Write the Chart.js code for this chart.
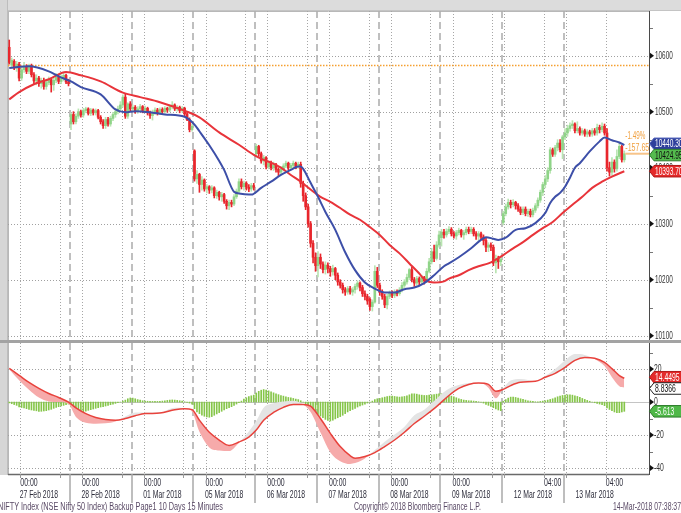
<!DOCTYPE html>
<html><head><meta charset="utf-8">
<script src="https://cdn.jsdelivr.net/npm/chart.js@4/dist/chart.umd.min.js"></script>
<style>
html,body{margin:0;padding:0;background:#fff;width:681px;height:513px;overflow:hidden;position:relative}
#topband{position:absolute;left:0;top:0;width:681px;height:10px;background:#dcdcdc;border-bottom:1px solid #c4c4c4}
#leftband{position:absolute;left:0;top:0;width:7px;height:475px;background:#d6d6d6;border-right:1px solid #bdbdbd}
#sep{position:absolute;left:0;top:340px;width:681px;height:3px;background:#a3a3a3}
#c1{position:absolute;left:0;top:0;width:681px;height:340px}
#c2{position:absolute;left:0;top:343px;width:681px;height:170px}
</style></head><body>
<div id="topband"></div><div id="leftband"></div><div id="sep"></div>
<canvas id="c1" width="681" height="340"></canvas>
<canvas id="c2" width="681" height="170"></canvas>
<script>
// ---------- DATA ----------
const days = ['27 Feb 2018','28 Feb 2018','01 Mar 2018','05 Mar 2018','06 Mar 2018','07 Mar 2018','08 Mar 2018','09 Mar 2018','12 Mar 2018','13 Mar 2018'];
const dayStartIdx = [0,25,50,75,100,125,150,175,200,225];
const dayEndIdx = [24,49,74,99,124,149,174,199,224,249];
const midnightIdx = [4.5,29.5,54.5,79.5,104.5,129.5,154.5,179.5,200.5,225.5];
const fourAmIdx = [20.5,45.5,70.5,95.5,120.5,145.5,170.5,195.5,216.5,241.5];
const timeLabels = ['00:00','00:00','00:00','00:00','00:00','00:00','00:00','00:00','04:00','04:00'];
const timeLabelIdx = [4.5,29.5,54.5,79.5,104.5,129.5,154.5,179.5,216.5,241.5];
const priceTicks = [10100,10200,10300,10400,10500,10600];
const priceMinorTicks = [10150,10250,10350,10450,10550,10650];
const macdTicks = [20,0,-20,-40];
const macdMinorTicks = [30,10,-10,-30];
const prevClose = 10582.6;
const lastClose = 10424.95, lastFast = 10440.30, lastSlow = 10393.70;
const lastSignal = 14.4495, lastMacd = 8.8366, lastHist = -5.613;
const changePct = '-1.49%', changeAbs = '-157.65';
const footerLeft = 'NIFTY Index (NSE Nifty 50 Index) Backup Page1 10 Days 15 Minutes';
const footerMid = 'Copyright\u00A9 2018 Bloomberg Finance L.P.';
const footerRight = '14-Mar-2018 07:38:37';

const openP = [
10615,10583,10590,10578,10585,10560,10575,10580,10572,10582,10566,10555,10560,10550,10556,10545,10552,10557,10548,10556,10562,10554,10560,10565,10553,
10478,10495,10482,10492,10500,10494,10502,10505,10497,10503,10498,10502,10490,10482,10475,10486,10478,10488,10495,10500,10505,10512,10526,10492,10514,
10505,10508,10500,10505,10509,10502,10506,10498,10493,10499,10503,10498,10504,10500,10506,10503,10509,10512,10505,10508,10502,10506,10496,10486,10468,
10430,10380,10388,10370,10378,10362,10366,10360,10364,10350,10356,10348,10352,10340,10332,10338,10335,10348,10358,10375,10366,10372,10365,10362,10368,
10425,10438,10425,10412,10418,10402,10408,10400,10405,10397,10392,10398,10403,10408,10400,10404,10408,10402,10406,10372,10350,10330,10300,10265,10240,
10225,10240,10228,10218,10226,10220,10214,10220,10208,10196,10190,10182,10178,10184,10178,10182,10188,10194,10186,10175,10170,10165,10152,10160,10215,
10190,10178,10170,10155,10170,10176,10172,10178,10175,10182,10190,10196,10204,10218,10200,10194,10202,10196,10204,10198,10215,10232,10250,10238,10262,
10275,10285,10280,10286,10290,10282,10278,10284,10288,10280,10284,10290,10286,10290,10282,10278,10282,10276,10270,10258,10262,10258,10230,10238,10232,
10302,10318,10330,10338,10334,10338,10332,10326,10320,10326,10318,10322,10316,10324,10332,10342,10356,10370,10380,10395,10432,10424,10436,10444,10432,
10455,10462,10470,10475,10478,10466,10470,10462,10466,10460,10464,10460,10466,10462,10472,10468,10474,10462,10400,10392,10410,10398,10420,10438,10414];
const highP = [
10628,10596,10593,10590,10588,10580,10588,10584,10585,10585,10570,10566,10563,10560,10560,10558,10562,10560,10560,10568,10566,10566,10570,10567,10558,
10498,10500,10496,10505,10503,10506,10508,10507,10506,10505,10505,10504,10493,10486,10490,10490,10492,10499,10503,10510,10518,10530,10531,10516,10518,
10512,10511,10509,10513,10511,10510,10508,10501,10503,10507,10506,10507,10507,10509,10508,10512,10518,10514,10511,10510,10509,10508,10499,10489,10478,
10432,10395,10390,10384,10380,10370,10368,10368,10366,10360,10358,10356,10354,10343,10342,10342,10352,10362,10380,10380,10376,10375,10370,10372,10372,
10442,10440,10428,10422,10420,10412,10412,10410,10408,10400,10402,10407,10412,10410,10408,10412,10410,10410,10410,10376,10355,10335,10304,10270,10248,
10250,10246,10232,10232,10230,10224,10226,10222,10212,10200,10194,10186,10188,10188,10186,10192,10198,10196,10190,10180,10174,10168,10164,10225,10222,
10194,10182,10174,10174,10180,10180,10182,10182,10186,10195,10200,10210,10220,10222,10204,10206,10205,10208,10206,10220,10238,10256,10262,10268,10287,
10290,10290,10291,10295,10293,10286,10288,10292,10290,10288,10294,10294,10294,10293,10286,10286,10285,10280,10274,10266,10266,10262,10244,10242,10240,
10322,10335,10344,10342,10343,10340,10336,10330,10330,10330,10326,10326,10328,10336,10346,10360,10374,10386,10400,10436,10435,10440,10450,10450,10458,
10470,10476,10480,10484,10480,10482,10473,10470,10469,10468,10467,10470,10470,10478,10476,10480,10478,10470,10410,10418,10414,10432,10444,10440,10430];
const lowP = [
10585,10578,10575,10572,10555,10556,10570,10568,10568,10562,10550,10548,10545,10542,10540,10540,10548,10535,10538,10552,10550,10550,10555,10550,10546,
10468,10478,10478,10488,10490,10490,10498,10494,10493,10494,10494,10487,10478,10470,10470,10474,10474,10484,10490,10496,10500,10508,10488,10488,10500,
10500,10497,10497,10502,10498,10499,10494,10488,10485,10495,10494,10495,10496,10497,10499,10500,10505,10502,10501,10498,10499,10492,10484,10464,10465,
10376,10372,10356,10360,10358,10355,10354,10355,10346,10345,10342,10340,10336,10326,10325,10330,10332,10345,10355,10362,10360,10360,10357,10358,10360,
10420,10420,10408,10405,10398,10398,10396,10395,10392,10386,10388,10394,10400,10396,10397,10400,10398,10399,10365,10340,10325,10294,10258,10230,10215,
10205,10220,10212,10210,10212,10206,10208,10200,10190,10185,10176,10172,10174,10174,10172,10176,10183,10180,10170,10164,10156,10145,10144,10158,10186,
10172,10165,10150,10148,10166,10168,10168,10171,10172,10178,10186,10192,10200,10196,10188,10190,10190,10192,10192,10195,10212,10228,10232,10235,10258,
10260,10274,10276,10282,10278,10274,10272,10280,10276,10272,10280,10282,10282,10278,10272,10270,10272,10262,10250,10250,10252,10225,10212,10220,10225,
10298,10314,10326,10328,10330,10326,10322,10316,10316,10314,10313,10312,10312,10320,10328,10338,10350,10364,10375,10390,10420,10420,10430,10428,10416,
10450,10456,10465,10470,10462,10462,10458,10458,10456,10455,10456,10456,10458,10458,10462,10464,10458,10394,10385,10386,10392,10394,10416,10410,10410];
const closeP = [
10588,10592,10578,10585,10560,10575,10580,10572,10582,10566,10555,10560,10550,10556,10545,10552,10557,10548,10556,10562,10554,10560,10565,10553,10550,
10495,10482,10492,10500,10494,10502,10505,10497,10503,10498,10502,10490,10482,10475,10486,10478,10488,10495,10500,10505,10512,10526,10492,10514,10505,
10508,10500,10505,10509,10502,10506,10498,10493,10499,10503,10498,10504,10500,10506,10503,10509,10512,10505,10508,10502,10506,10496,10486,10468,10474,
10380,10388,10370,10378,10362,10366,10360,10364,10350,10356,10348,10352,10340,10332,10338,10335,10348,10358,10375,10366,10372,10365,10362,10368,10365,
10438,10425,10412,10418,10402,10408,10400,10405,10397,10392,10398,10403,10408,10400,10404,10408,10402,10406,10372,10350,10330,10300,10265,10240,10225,
10240,10228,10218,10226,10220,10214,10220,10208,10196,10190,10182,10178,10184,10178,10182,10188,10194,10186,10175,10170,10162,10152,10160,10215,10190,
10178,10170,10155,10170,10176,10172,10178,10175,10182,10190,10196,10204,10218,10200,10194,10202,10196,10204,10198,10215,10232,10250,10238,10262,10280,
10285,10280,10286,10290,10282,10278,10284,10288,10280,10284,10290,10286,10290,10282,10278,10282,10276,10270,10258,10262,10258,10230,10238,10232,10236,
10318,10330,10338,10334,10338,10332,10326,10320,10326,10318,10322,10316,10324,10332,10342,10356,10370,10380,10395,10432,10424,10436,10444,10432,10455,
10462,10470,10475,10478,10466,10470,10462,10466,10460,10464,10460,10466,10462,10472,10468,10474,10462,10400,10392,10410,10398,10420,10438,10414,10424.95];

// moving averages at sample bars
const fastIdx = [0,8,16,20,25,29,37,43,47,51,57,63,71,75,77,81,85,87,91,93,97,98,102,106,110,114,117,118,119,122,125,128,132,136,140,144,148,152,156,160,164,168,172,176,178,182,187,191,193,196,198,201,205,209,213,217,219,221,223,225,227,229,231,235,239,241,244,247,249];
const fastVal = [10578,10581,10572,10563,10554,10544,10531,10504,10499,10501,10499,10495,10491,10477,10465,10440,10412,10396,10357,10354,10352,10352,10364,10375,10387,10396,10402,10402,10398,10373,10348,10321,10289,10249,10217,10195,10184,10177,10177,10183,10186,10194,10208,10224,10229,10240,10256,10271,10276,10273,10271,10275,10289,10292,10301,10319,10337,10348,10355,10366,10382,10400,10408,10429,10447,10454,10449,10445,10440.3];
const slowIdx = [0,4,10,16,23,29,37,46,53,61,72,77,85,93,99,103,106,110,114,118,122,126,130,134,138,142,146,150,154,158,162,166,168,172,176,178,182,186,190,194,197,200,204,208,212,216,220,224,228,232,236,240,244,249];
const slowVal = [10522,10535,10549,10558,10571,10565,10554,10534,10526,10517,10500,10490,10463,10441,10423,10414,10409,10400,10387,10375,10361,10348,10339,10328,10316,10307,10294,10280,10262,10247,10229,10211,10201,10195,10197,10202,10208,10217,10224,10229,10236,10244,10256,10267,10280,10292,10303,10319,10334,10348,10364,10375,10384,10393.7];

// MACD panel
const macdIdx = [0,4,8,12,16,20,24,27,31,35,39,43,47,51,55,61,67,71,74,77,81,85,89,93,97,100,103,107,111,115,119,122,126,130,134,138,140,144,148,152,156,160,164,168,172,174,178,182,186,190,194,197,200,203,207,213,217,221,225,229,233,237,241,244,247,249];
const signalVal = [20.4,16.2,11.9,8.3,5.2,2.8,0,-3.5,-7,-9.3,-10.5,-11,-10,-8.3,-7,-6.7,-4.6,-4,-4.6,-11,-18.3,-23,-26.3,-24.2,-21.2,-17,-11,-6.3,-3.2,-1.4,-1.4,-2.5,-10,-19,-27,-32.5,-34,-33,-30.6,-27,-23,-18.3,-13,-8.6,-4,-1.4,4,8.3,10.7,11.5,10.7,6.5,7.7,10,12,12.6,15,17.4,21,25.3,27,26.5,24,20.3,16,14.4495];
const macdVal = [19.9,13.2,7.5,2.7,0.4,0,-1.2,-9,-12.5,-13.1,-12.9,-11.8,-8.8,-6.3,-6.4,-6.2,-3.4,-3.8,-5.8,-18,-27.5,-29.4,-29.7,-24.6,-17.8,-11.5,-3.4,-0.7,0.4,0.8,-1.4,-6,-18.5,-30.5,-35.8,-37.5,-37,-34.2,-29.1,-24,-19.6,-14.9,-8,-4.6,0.6,3.6,8,10.3,11.5,11.7,8.7,2.3,8.2,13,14,12.8,15.8,20,25.2,29.1,28.6,26.1,21.8,15.1,9.6,8.8366];
const histVal = [
-0.5,-1,-1.5,-2,-3,-3.3,-3.6,-4,-4.4,-4.8,-5,-5.3,-5.6,-5.6,-5.4,-5.2,-4.8,-4.4,-3.8,-3.2,-2.8,-2.4,-2,-1.6,-1.2,
-3,-4.5,-5.5,-6,-6.2,-6,-5.5,-5,-4.6,-4.2,-3.8,-3.4,-3,-2.8,-2.4,-2,-1.6,-1.2,-0.8,-0.4,0,0.6,1.2,2,2.5,
2.4,2,1.5,1.2,0.8,0.6,0.5,0.4,0.4,0.5,0.4,0.5,0.6,0.8,1,1.2,1.3,1.2,1,0.8,0.6,0.2,-0.2,-0.6,-1.2,
-4,-6,-7,-8,-8.6,-9,-9.2,-8.8,-8,-7.2,-6.4,-5.6,-4.8,-4,-3.4,-2.8,-2,-1.2,-0.4,0.6,1.8,2.6,3.4,3.8,4.2,
5.5,6.5,7.2,7.6,7.2,6.8,6.2,5.6,5,4.5,4,3.6,3.2,2.8,2.5,2.2,1.8,1.5,0.8,0,-1,-2.2,-3.5,-5,-6.5,
-7.5,-8.5,-9.5,-10.5,-11.2,-11.5,-11,-10.2,-9.5,-8.8,-8,-7,-6,-5.2,-4.5,-3.8,-3,-2.4,-1.8,-1.2,-0.6,0,0.6,1.5,2,
2.2,2.6,3,3.4,3.6,3.6,3.4,3.2,3,3.2,3.4,3.8,4.4,5,5,4.8,4.4,4.2,4,4,4.2,4.4,4.6,4.8,5,
5,4.8,4.4,4,3.6,3.2,2.6,2,1.6,1.2,1,0.8,0.8,0.6,0.4,0.2,0,-0.6,-1.4,-2,-2.6,-3.4,-4.2,-4.8,-5.2,
0.5,1.5,2.4,3,3,2.8,2.4,2,1.6,1.2,0.8,0.6,0.4,0.2,0.2,0.4,0.6,0.8,1.2,1.6,2,2.6,3.2,3.6,4,
4.2,4.4,4.4,4.2,3.8,3.4,2.8,2.2,1.6,1,0.5,0,-0.4,-0.8,-1.2,-1.6,-2.2,-3.5,-4.5,-5.2,-6,-6.5,-6.4,-6,-5.613];

// ---------- SETUP ----------
const X_MIN = -0.5, X_MAX = 259;
const P_MIN = 10092.3, P_MAX = 10679.8;
const M_MIN = -43.6, M_MAX = 35.8;
const FONT = '"Liberation Sans", Arial, sans-serif';
const UP_BODY = '#8fd488', UP_WICK = '#b9e5b2', DN = '#e8262c';

function drawText(ctx, txt, x, y, o) {
  ctx.save();
  ctx.font = (o.weight || 'normal') + ' ' + o.size + 'px ' + FONT;
  ctx.fillStyle = o.color;
  ctx.textBaseline = 'middle';
  ctx.textAlign = 'left';
  const mw = ctx.measureText(txt).width;
  const sx = o.w ? o.w / mw : (o.sx || 1);
  const w = mw * sx;
  let x0 = x;
  if (o.align === 'right') x0 = x - w; else if (o.align === 'center') x0 = x - w / 2;
  ctx.translate(x0, y); ctx.scale(sx, 1);
  ctx.fillText(txt, 0, 0);
  ctx.restore();
}
function hline(ctx, x1, x2, y) { ctx.beginPath(); ctx.moveTo(x1, y); ctx.lineTo(x2, y); ctx.stroke(); }
function vline(ctx, x, y1, y2) { ctx.beginPath(); ctx.moveTo(x, y1); ctx.lineTo(x, y2); ctx.stroke(); }
function badge(ctx, ax, yc, txt, fill, stroke, tcol, sx) {
  const h = 11.5, bx = ax + 5;
  ctx.save();
  ctx.beginPath();
  ctx.moveTo(ax + 0.5, yc);
  ctx.lineTo(bx, yc - h / 2); ctx.lineTo(700, yc - h / 2);
  ctx.lineTo(700, yc + h / 2); ctx.lineTo(bx, yc + h / 2);
  ctx.closePath();
  ctx.fillStyle = fill; ctx.fill();
  ctx.lineWidth = 1; ctx.strokeStyle = stroke; ctx.stroke();
  ctx.restore();
  drawText(ctx, txt, bx + 1, yc + 0.5, {size: 11, color: tcol, sx: sx});
}
function triangle(ctx, ax, py) {
  ctx.fillStyle = '#111';
  ctx.beginPath(); ctx.moveTo(ax + 1, py - 3); ctx.lineTo(ax + 5, py); ctx.lineTo(ax + 1, py + 3); ctx.closePath(); ctx.fill();
}
function verticalGrid(ctx, x, a) {
  ctx.save();
  ctx.lineWidth = 1; ctx.strokeStyle = '#a6a6a6'; ctx.setLineDash([1, 2]);
  midnightIdx.concat(fourAmIdx).forEach(v => { const px = Math.round(x.getPixelForValue(v)) + 0.5; vline(ctx, px, a.top, a.bottom); });
  ctx.strokeStyle = '#b0b0b0'; ctx.lineWidth = 1.6; ctx.setLineDash([7, 4]);
  dayStartIdx.slice(1).forEach(v => { const px = Math.round(x.getPixelForValue(v - 0.5)); vline(ctx, px, a.top, a.bottom); });
  ctx.restore();
}

// ---------- MAIN PRICE CHART ----------
const idx = closeP.map((c, i) => i);
const bodyColors = idx.map(i => closeP[i] >= openP[i] ? UP_BODY : DN);
const wickColors = idx.map(i => closeP[i] >= openP[i] ? UP_WICK : DN);

const pluginA = {
  id: 'pluginA',
  beforeDatasetsDraw(chart) {
    const {ctx, chartArea: a, scales: {x, y}} = chart;
    ctx.save();
    ctx.strokeStyle = '#b8b8b8'; ctx.lineWidth = 1;
    vline(ctx, a.left + 0.5, a.top, a.bottom);
    hline(ctx, a.left, a.right, a.top + 0.5);
    ctx.setLineDash([1, 2]); ctx.strokeStyle = '#a0a0a0';
    priceTicks.forEach(v => { const py = Math.round(y.getPixelForValue(v)) + 0.5; hline(ctx, a.left, a.right, py); });
    ctx.restore();
    verticalGrid(ctx, x, a);
  },
  afterDraw(chart) {
    const {ctx, chartArea: a, scales: {x, y}} = chart;
    const ax = a.right;
    ctx.save();
    ctx.fillStyle = '#777';
    priceMinorTicks.forEach(v => { const py = Math.round(y.getPixelForValue(v)); ctx.fillRect(ax + 1, py, 3, 1); });
    priceTicks.forEach(v => {
      const py = y.getPixelForValue(v);
      triangle(ctx, ax, py);
      drawText(ctx, String(v), ax + 6, py, {size: 11, color: '#333', sx: 0.58});
    });
    // last close connector and change labels
    const pc = y.getPixelForValue(lastClose);
    const xl = x.getPixelForValue(dayEndIdx[9]) + 1;
    ctx.strokeStyle = '#f7c48a'; ctx.lineWidth = 2; ctx.setLineDash([]);
    hline(ctx, xl, ax, pc);
    drawText(ctx, changePct, xl, pc - 18, {size: 11, color: '#f0a040', w: 20});
    drawText(ctx, changeAbs, xl, pc - 6, {size: 11, color: '#f0a040', w: 24});
    // badges
    let yb = y.getPixelForValue(lastFast), yg = y.getPixelForValue(lastClose), yr = y.getPixelForValue(lastSlow);
    if (yg - yb < 11.3) { const m = (yb + yg) / 2; yb = m - 5.65; yg = m + 5.65; }
    badge(ctx, ax, yb, lastFast.toFixed(2), '#2e3f9c', '#5c6cc0', '#fff', 0.6);
    badge(ctx, ax, yg, lastClose.toFixed(2), '#54bb4e', '#2c7a2a', '#111', 0.6);
    badge(ctx, ax, yr, lastSlow.toFixed(2), '#e42a2a', '#b01818', '#fff', 0.6);
    ctx.restore();
  }
};

new Chart(document.getElementById('c1'), {
  type: 'bar',
  data: {
    datasets: [
      {type: 'line', label: 'Previous close', data: [{x: X_MIN, y: prevClose}, {x: X_MAX, y: prevClose}],
        borderColor: '#f5a030', borderWidth: 1.6, borderDash: [1.5, 1.5], pointRadius: 0, order: 6},
      {label: 'Range', data: idx.map(i => ({x: i, y: [lowP[i], highP[i]]})), backgroundColor: wickColors,
        barThickness: 1, grouped: false, order: 5},
      {label: 'Body', data: idx.map(i => ({x: i, y: [openP[i], closeP[i]]})), backgroundColor: bodyColors,
        barThickness: 2, minBarLength: 1, grouped: false, order: 4},
      {type: 'line', label: 'Slow MA', data: slowIdx.map((v, k) => ({x: v, y: slowVal[k]})),
        borderColor: '#e8343a', borderWidth: 2, pointRadius: 0, cubicInterpolationMode: 'monotone', order: 3},
      {type: 'line', label: 'Fast MA', data: fastIdx.map((v, k) => ({x: v, y: fastVal[k]})),
        borderColor: '#3d4fa8', borderWidth: 2, pointRadius: 0, cubicInterpolationMode: 'monotone', order: 2}
    ]
  },
  options: {
    responsive: false, animation: false, events: [],
    layout: {padding: {left: 8, top: 11, right: 0, bottom: 0}},
    plugins: {legend: {display: false}, tooltip: {enabled: false}},
    scales: {
      x: {type: 'linear', min: X_MIN, max: X_MAX, display: false, offset: false, grid: {offset: false}},
      y: {position: 'right', min: P_MIN, max: P_MAX, grid: {display: false}, ticks: {display: false},
        border: {display: true, color: '#4a4a4a', width: 1},
        afterFit(s) { s.width = 32; }}
    }
  },
  plugins: [pluginA]
});

// ---------- MACD CHART ----------
const pluginB = {
  id: 'pluginB',
  beforeDatasetsDraw(chart) {
    const {ctx, chartArea: a, scales: {x, y}} = chart;
    ctx.save();
    ctx.strokeStyle = '#b8b8b8'; ctx.lineWidth = 1;
    vline(ctx, a.left + 0.5, a.top, a.bottom);
    ctx.setLineDash([1, 2]); ctx.strokeStyle = '#a0a0a0';
    macdTicks.filter(v => v !== 0).forEach(v => { const py = Math.round(y.getPixelForValue(v)) + 0.5; hline(ctx, a.left, a.right, py); });
    ctx.setLineDash([]); ctx.strokeStyle = '#c4c4c4';
    hline(ctx, a.left, a.right, Math.round(y.getPixelForValue(0)) + 0.5);
    ctx.restore();
    verticalGrid(ctx, x, a);
  },
  afterDraw(chart) {
    const {ctx, chartArea: a, scales: {x, y}} = chart;
    const ax = a.right;
    ctx.save();
    // bottom axis line
    ctx.strokeStyle = '#6a6a6a'; ctx.lineWidth = 1.5;
    hline(ctx, a.left, ax, a.bottom + 0.5);
    // ticks below plot
    ctx.lineWidth = 1; ctx.strokeStyle = '#999';
    midnightIdx.concat(fourAmIdx).forEach(v => { const px = Math.round(x.getPixelForValue(v)) + 0.5; vline(ctx, px, a.bottom, a.bottom + 4); });
    ctx.strokeStyle = '#a8a8a8'; ctx.lineWidth = 1.5;
    dayStartIdx.slice(1).forEach(v => { const px = Math.round(x.getPixelForValue(v - 0.5)); vline(ctx, px, a.bottom, a.bottom + 29); });
    // labels
    days.forEach((d, k) => {
      const tx = x.getPixelForValue(timeLabelIdx[k]);
      drawText(ctx, timeLabels[k], tx, a.bottom + 9, {size: 11, color: '#2e2e3c', sx: 0.63});
      const c = (x.getPixelForValue(dayStartIdx[k] - 0.5) + x.getPixelForValue(dayEndIdx[k] + 0.5)) / 2;
      drawText(ctx, d, c, a.bottom + 21, {size: 11, color: '#2e2e3c', sx: 0.62, align: 'center'});
    });
    // footer
    drawText(ctx, footerLeft, -2, a.bottom + 33.5, {size: 10, color: '#5a4a66', w: 225});
    drawText(ctx, footerMid, 354, a.bottom + 33.5, {size: 10, color: '#5a4a66', w: 127});
    drawText(ctx, footerRight, 613, a.bottom + 33.5, {size: 10, color: '#5a4a66', w: 68});
    // axis decorations
    ctx.fillStyle = '#777';
    macdMinorTicks.forEach(v => { const py = Math.round(y.getPixelForValue(v)); ctx.fillRect(ax + 1, py, 3, 1); });
    macdTicks.forEach(v => {
      const py = y.getPixelForValue(v);
      triangle(ctx, ax, py);
      drawText(ctx, String(v), ax + 5, py, {size: 11, color: '#333', sx: 0.62});
    });
    let yr = y.getPixelForValue(lastSignal), yw = y.getPixelForValue(lastMacd), yg = y.getPixelForValue(lastHist);
    if (yw - yr < 11.3) { const m = (yr + yw) / 2; yr = m - 5.65; yw = m + 5.65; }
    badge(ctx, ax, yr, lastSignal.toFixed(4), '#e42a2a', '#b01818', '#fff', 0.62);
    badge(ctx, ax, yw, lastMacd.toFixed(4), '#ffffff', '#222', '#111', 0.62);
    badge(ctx, ax, yg, lastHist.toFixed(3), '#4fb848', '#2c7a2a', '#fff', 0.62);
    ctx.restore();
  }
};

new Chart(document.getElementById('c2'), {
  type: 'bar',
  data: {
    datasets: [
      {label: 'Histogram', data: idx.map(i => ({x: i, y: histVal[i]})), backgroundColor: '#86c64a',
        barThickness: 1, grouped: false, order: 4},
      {type: 'line', label: 'MACD', data: macdIdx.map((v, k) => ({x: v, y: macdVal[k]})),
        borderColor: 'rgba(0,0,0,0)', borderWidth: 0, pointRadius: 0, cubicInterpolationMode: 'monotone',
        fill: {target: 2, above: '#e4e4e4', below: '#f6aaaa'}, order: 3},
      {type: 'line', label: 'Signal', data: macdIdx.map((v, k) => ({x: v, y: signalVal[k]})),
        borderColor: '#e8423c', borderWidth: 1.5, pointRadius: 0, cubicInterpolationMode: 'monotone', order: 2}
    ]
  },
  options: {
    responsive: false, animation: false, events: [],
    layout: {padding: {left: 8, top: 0, right: 0, bottom: 39}},
    plugins: {legend: {display: false}, tooltip: {enabled: false}},
    scales: {
      x: {type: 'linear', min: X_MIN, max: X_MAX, display: false, offset: false, grid: {offset: false}},
      y: {position: 'right', min: M_MIN, max: M_MAX, grid: {display: false}, ticks: {display: false},
        border: {display: true, color: '#4a4a4a', width: 1},
        afterFit(s) { s.width = 32; }}
    }
  },
  plugins: [pluginB]
});
</script></body></html>
